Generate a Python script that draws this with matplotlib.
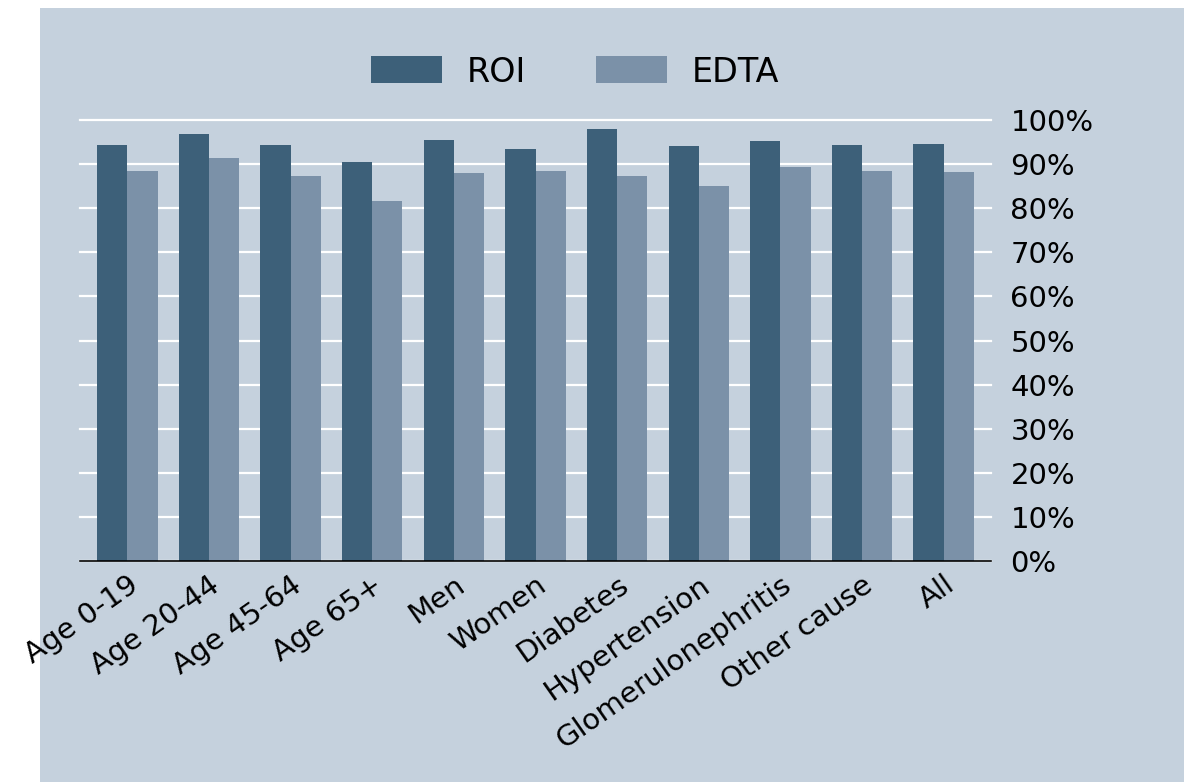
import numpy as np
import matplotlib
matplotlib.use("Agg")
import matplotlib.pyplot as plt
from matplotlib.patches import Rectangle
from matplotlib.ticker import PercentFormatter

# data
categories = ["Age 0-19", "Age 20-44", "Age 45-64", "Age 65+", "Men", "Women",
              "Diabetes", "Hypertension", "Glomerulonephritis", "Other cause", "All"]
roi = [94.3, 96.8, 94.3, 90.5, 95.4, 93.4, 98.0, 94.0, 95.3, 94.3, 94.6]
edta = [88.4, 91.3, 87.3, 81.7, 87.9, 88.4, 87.3, 85.1, 89.4, 88.4, 88.1]
series_names = ["ROI", "EDTA"]
y_ticks = [0, 10, 20, 30, 40, 50, 60, 70, 80, 90, 100]

BG = "#c5d1dd"
ROI_COL = "#3d6079"
EDTA_COL = "#7b91a8"

plt.rcParams['font.family'] = ['DejaVu Sans']

fig = plt.figure(figsize=(11.84, 7.82), dpi=100)
fig.patch.set_facecolor("white")
# grey-blue panel behind the chart (white strip on the left and top)
panel = Rectangle((40 / 1184, 0), 1 - 40 / 1184, 1 - 8 / 782,
                  transform=fig.transFigure, facecolor=BG,
                  edgecolor="none", zorder=-10)
fig.patches.append(panel)

ax = fig.add_axes([80 / 1184, 221 / 782, 911 / 1184, 441 / 782])
ax.set_facecolor("none")
ax.set_zorder(1)

x = np.arange(len(categories))
w = 0.37
ax.bar(x - w / 2, roi, width=w, color=ROI_COL, label=series_names[0], zorder=3)
ax.bar(x + w / 2, edta, width=w, color=EDTA_COL, label=series_names[1], zorder=3)

ax.set_xlim(-0.58, len(categories) - 0.42)
ax.set_ylim(0, 100)

for s in ["left", "right", "top"]:
    ax.spines[s].set_visible(False)
ax.spines["bottom"].set_color("black")
ax.spines["bottom"].set_linewidth(1.2)
ax.spines["bottom"].set_zorder(4)

ax.yaxis.tick_right()
ax.set_yticks(y_ticks)
ax.yaxis.set_major_formatter(PercentFormatter(decimals=0))
ax.tick_params(axis="y", length=0, pad=14, labelsize=21)
ax.grid(axis="y", color="white", linewidth=1.6, zorder=1)
ax.set_axisbelow(True)
for gl in ax.get_ygridlines():
    gl.set_clip_on(False)

ax.set_xticks(x)
ax.set_xticklabels(categories, rotation=35, ha="right", va="top",
                   rotation_mode="anchor", fontsize=21)
ax.tick_params(axis="x", length=0, pad=7)

leg = fig.legend(loc="center", bbox_to_anchor=(575 / 1184, 1 - 72 / 782),
                 ncol=2, frameon=False, fontsize=24, handlelength=2.13,
                 handleheight=0.87, handletextpad=0.75, columnspacing=2.1)
leg.set_zorder(2)

fig.savefig("out.png", dpi=100, facecolor=fig.get_facecolor())
